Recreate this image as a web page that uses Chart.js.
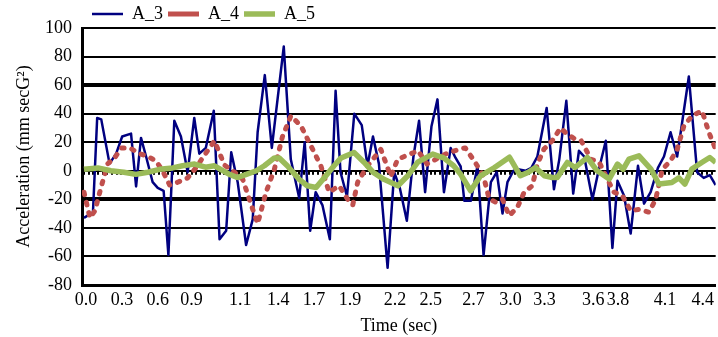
<!DOCTYPE html>
<html><head><meta charset="utf-8">
<script src="https://cdn.jsdelivr.net/npm/chart.js@4.4.1/dist/chart.umd.min.js"></script>
<style>html,body{margin:0;padding:0;background:#fff;overflow:hidden}#wrap{position:relative;width:718px;height:337px}</style>
</head><body><div id="wrap"><canvas id="c"></canvas></div>
<script>
const SERIES_NAMES = ['A_3', 'A_4', 'A_5'];

const TIME_A3 = [0.000,0.064,0.094,0.123,0.182,0.229,0.272,0.335,0.371,0.406,0.442,0.489,0.525,0.567,0.601,0.643,0.690,0.738,0.785,0.821,0.867,0.924,0.965,1.012,1.048,1.094,1.154,1.201,1.236,1.287,1.337,1.422,1.472,1.532,1.571,1.610,1.649,1.697,1.750,1.791,1.826,1.872,1.924,1.977,2.018,2.057,2.099,2.161,2.208,2.248,2.298,2.345,2.385,2.428,2.473,2.516,2.562,2.610,2.645,2.681,2.707,2.754,2.801,2.844,2.896,2.938,2.979,3.014,3.057,3.097,3.142,3.184,3.227,3.293,3.345,3.383,3.433,3.482,3.523,3.560,3.619,3.660,3.714,3.761,3.797,3.844,3.891,3.943,3.986,4.033,4.085,4.128,4.175,4.222,4.305,4.364,4.411,4.454,4.496];
const A3 = [-33,-29,37,36,5,12,24,26,-11,23,10,-8,-12,-14,-59,35,24,-1,37,12,16,42,-48,-42,13,-8,-52,-34,27,67,16,87,8,-19,20,-42,-15,-24,-48,56,-1,-18,40,32,3.5,24,5,-68,-1,-12,-35,10,35,-15,31,50,-15,16,9,3,-21,-21,3.5,-59,-8,-1,-30,-8,0,1,0,2,10,44,-13,8,49,-16,14,10,-20,-1,21,-54,-7,-17.5,-44,3.5,-23,-15,2,10,27,10,66,-1,-5,-3,-10];

const TIME_A4 = [0.000,0.043,0.078,0.126,0.170,0.218,0.267,0.326,0.397,0.454,0.511,0.560,0.610,0.667,0.738,0.796,0.865,0.929,1.000,1.071,1.130,1.177,1.236,1.296,1.355,1.413,1.473,1.544,1.615,1.686,1.745,1.816,1.877,1.913,1.948,2.019,2.113,2.184,2.232,2.291,2.378,2.442,2.572,2.669,2.714,2.785,2.844,2.884,2.931,2.979,3.026,3.085,3.133,3.191,3.227,3.274,3.333,3.392,3.440,3.499,3.539,3.582,3.608,3.667,3.726,3.773,3.832,3.891,3.950,4.021,4.069,4.116,4.175,4.222,4.270,4.328,4.399,4.447,4.496];
const A4 = [-15,-33,-28,-10,5,9,16,16,12,10,7,0,-10,-8,-5,2,12,21,4,-1,-6,-20,-37,-15,1,24,38.5,31.5,17.5,3.5,-15,-10.5,-20,-24,-8,3.5,15,-4,8,10.5,14,4.7,11.7,15,16,5.8,-4,-19.8,-22,-20,-31.5,-25.6,-15,-10.5,4.7,15.2,21,30,25.6,22,21,13,8,6,-6,-15,-17.5,-28,-27,-29,-20,1,7,15,31.5,38.5,42,27,15];

const TIME_A5 = [0.000,0.099,0.191,0.284,0.369,0.454,0.539,0.631,0.702,0.787,0.865,0.929,1.035,1.092,1.156,1.227,1.284,1.355,1.390,1.447,1.532,1.589,1.652,1.709,1.780,1.830,1.922,1.993,2.057,2.135,2.234,2.305,2.376,2.482,2.560,2.631,2.681,2.752,2.823,2.922,3.028,3.106,3.163,3.213,3.277,3.333,3.369,3.440,3.496,3.582,3.652,3.738,3.797,3.837,3.879,3.950,4.035,4.092,4.184,4.234,4.277,4.326,4.397,4.454,4.496];
const A5 = [1,2,0,-1,-2.5,-1,1,2,3.5,4.7,2.5,3.5,-2.5,-4.7,-2.5,0,3.5,9,9,3.5,-6,-10.5,-11.7,-5,3.5,9,12.8,6,-1,-6,-10.5,-3.5,6,11.7,9,3.5,-2.5,-14,-3.5,2.3,9.5,-3.5,-1,2.3,-3.5,-4.7,-4.7,5.8,2.3,9.3,0,-5.8,4.7,1,8.2,10.5,1.2,-9.3,-8.2,-5,-9.3,1.2,5.8,9.3,5.8];

const TICK_AT = [0.014,0.270,0.525,0.766,1.113,1.383,1.638,1.894,2.213,2.468,2.773,3.035,3.277,3.624,3.801,4.135,4.404];
const TICK_LABELS = ['0.0','0.3','0.6','0.9','1.1','1.4','1.7','1.9','2.2','2.5','2.7','3.0','3.3','3.6','3.8','4.1','4.4'];

const X_MIN = -0.014, X_MAX = 4.496;
const Y_MIN = -80, Y_MAX = 100, Y_STEP = 20;
const ZERO_TICK_STEP = 1 / 30;

const FONT = 'Liberation Serif';

function pts(ts, vs) { return ts.map((t, i) => ({ x: t, y: vs[i] })); }

const zeroAxisPlugin = {
  id: 'zeroAxis',
  beforeDatasetsDraw(chart) {
    const xs = chart.scales.x, ys = chart.scales.y, ctx = chart.ctx;
    const y0 = ys.getPixelForValue(0);
    ctx.save();
    ctx.fillStyle = '#000';
    for (let t = 0; t <= X_MAX; t += ZERO_TICK_STEP) {
      const px = xs.getPixelForValue(t);
      ctx.fillRect(Math.round(px) - 1, y0, 2, 4);
    }
    ctx.restore();
  }
};

const legendShift = {
  id: 'legendShift',
  afterLayout(chart) { chart.legend.left = 87; }
};

new Chart(document.getElementById('c'), {
  type: 'line',
  data: {
    datasets: [
      { label: SERIES_NAMES[0], data: pts(TIME_A3, A3), borderColor: '#000080', backgroundColor: '#000080', borderWidth: 2.5, pointRadius: 0, pointStyle: 'line', tension: 0, order: 3, borderJoinStyle: 'round' },
      { label: SERIES_NAMES[1], data: pts(TIME_A4, A4), borderColor: '#C0504D', backgroundColor: '#C0504D', borderWidth: 5, borderDash: [2.5, 8], borderCapStyle: 'round', pointRadius: 0, pointStyle: 'line', tension: 0, order: 2, borderJoinStyle: 'round' },
      { label: SERIES_NAMES[2], data: pts(TIME_A5, A5), borderColor: '#9BBB59', backgroundColor: '#9BBB59', borderWidth: 5.5, pointRadius: 0, pointStyle: 'line', tension: 0, order: 1, borderJoinStyle: 'round' }
    ]
  },
  options: {
    responsive: true, maintainAspectRatio: false, animation: false, devicePixelRatio: 1,
    layout: { padding: 0 },
    plugins: {
      legend: {
        position: 'top', align: 'start', maxHeight: 28,
        labels: {
          usePointStyle: true, pointStyleWidth: 31, padding: 5, color: '#000',
          font: { family: FONT, size: 18 },
          sort: (a, b) => a.datasetIndex - b.datasetIndex
        }
      },
      tooltip: { enabled: false }
    },
    scales: {
      x: {
        type: 'linear', min: X_MIN, max: X_MAX,
        afterBuildTicks: (s) => { s.ticks = TICK_AT.map(v => ({ value: v })); },
        afterFit: (s) => { s.height = 52; },
        ticks: {
          autoSkip: false, maxRotation: 0, padding: 4, color: '#000',
          font: { family: FONT, size: 18 },
          callback: (v, i) => TICK_LABELS[i]
        },
        grid: { display: false, drawTicks: false },
        border: { display: true, color: '#000', width: 3 },
        title: { display: true, text: 'Time (sec)', color: '#000', font: { family: FONT, size: 18 }, padding: { top: 0, bottom: 0 } }
      },
      y: {
        min: Y_MIN, max: Y_MAX,
        afterFit: (s) => { s.width = 82; },
        ticks: { stepSize: Y_STEP, padding: 10, color: '#000', font: { family: FONT, size: 18 } },
        grid: {
          drawTicks: false, color: '#000',
          lineWidth: (c) => { const v = c.tick && c.tick.value; return (v === 60 || v === -20) ? 4 : (v === -80 ? 3 : 2); }
        },
        border: { display: true, color: '#000', width: 3 },
        title: { display: true, text: 'Acceleration (mm secG²)', color: '#000', font: { family: FONT, size: 18 }, padding: { top: 13, bottom: 0 } }
      }
    }
  },
  plugins: [zeroAxisPlugin, legendShift]
});
</script></body></html>
